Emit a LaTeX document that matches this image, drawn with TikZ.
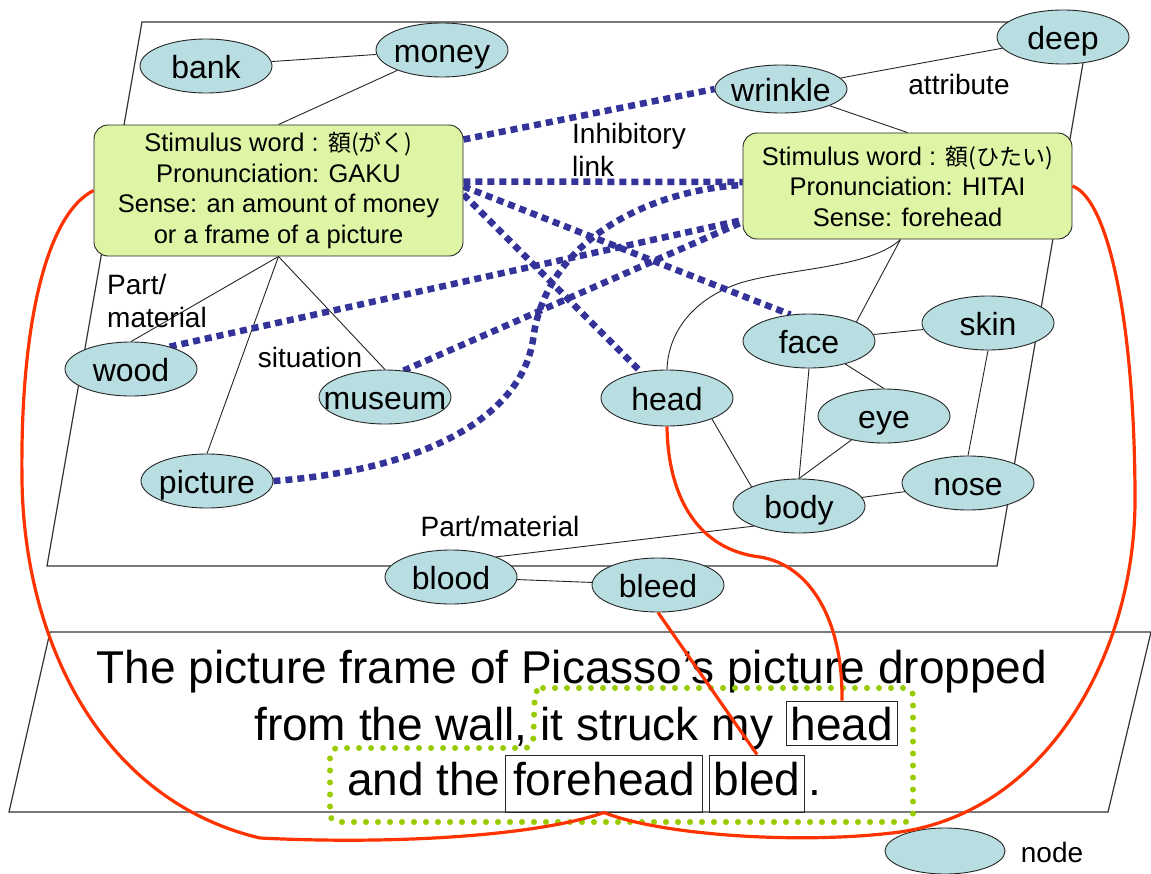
\documentclass[tikz,border=0pt]{standalone}
\usepackage{fontspec}
\setmainfont{Liberation Sans}
\newfontfamily\cjk{Noto Sans CJK JP}
\usetikzlibrary{shapes.geometric}
\pgfdeclarelayer{bg}
\pgfsetlayers{bg,main}
\definecolor{ellfill}{RGB}{184,222,226}
\definecolor{boxfill}{RGB}{222,245,165}
\definecolor{inhblue}{RGB}{51,51,153}
\definecolor{semred}{RGB}{255,51,0}
\definecolor{grn}{RGB}{153,204,0}
\newcommand\zw[1]{\makebox[0pt]{#1}}
\begin{document}
\begin{tikzpicture}[x=1pt,y=-1pt,
  ell/.style={ellipse, draw=black!85, line width=0.9pt, fill=ellfill, minimum width=132pt, minimum height=54pt, inner sep=0pt, text height=24pt, text depth=0pt, font=\fontsize{32}{36}\selectfont},
  stim/.style={rectangle, rounded corners=14pt, draw=black!85, line width=0.9pt, fill=boxfill, align=center, inner sep=0pt, font=\fontsize{25.5}{30.5}\selectfont},
  lbl/.style={inner sep=0pt, font=\fontsize{28}{33}\selectfont},
  sent/.style={inner sep=0pt, font=\fontsize{46}{55}\selectfont},
  wbox/.style={rectangle, draw=black!85, line width=1pt, inner xsep=4pt, inner ysep=1pt, text height=38pt, text depth=4pt, font=\fontsize{46}{55}\selectfont},
  plane/.style={draw=black!80, line width=1.2pt},
  rel/.style={draw=black!85, line width=0.9pt},
  inh/.style={draw=inhblue, line width=6.5pt, dash pattern=on 7pt off 5pt},
  sem/.style={draw=semred, line width=3.2pt},
  dotgrn/.style={draw=grn, line width=6pt, dash pattern=on 0pt off 12pt, line cap=round, rounded corners=8pt}
]
\useasboundingbox (0,0) rectangle (1151,873);

% stimulus boxes
\node[stim, minimum width=369pt, minimum height=131pt] (gaku) at (278.5,190.5)
  {Stimulus word : {\cjk\fontsize{23}{30}\selectfont 額(がく)}\\Pronunciation: GAKU\\Sense: an amount of money\\or a frame of a picture};
\node[stim, minimum width=329pt, minimum height=106pt] (hitai) at (907.5,186)
  {Stimulus word : {\cjk\fontsize{23}{30}\selectfont 額(ひたい)}\\Pronunciation: HITAI\\Sense: forehead};

% concept nodes
\node[ell] (bank) at (206,66) {\zw{bank}};
\node[ell] (money) at (442,50) {\zw{money}};
\node[ell, minimum height=48pt] (wrinkle) at (781,89) {\zw{wrinkle}};
\node[ell] (deep) at (1063,37) {\zw{deep}};
\node[ell] (wood) at (131,369) {\zw{wood}};
\node[ell] (museum) at (385,397) {\zw{museum}};
\node[ell] (picture) at (207,481) {\zw{picture}};
\node[ell, minimum height=56pt] (head) at (667,398) {\zw{head}};
\node[ell] (face) at (809,341) {\zw{face}};
\node[ell] (skin) at (988,323) {\zw{skin}};
\node[ell] (eye) at (884,416) {\zw{eye}};
\node[ell] (body) at (799,506) {\zw{body}};
\node[ell] (nose) at (968,483) {\zw{nose}};
\node[ell] (blood) at (451,577) {\zw{blood}};
\node[ell] (bleed) at (658,585) {\zw{bleed}};
\node[ell, minimum width=120pt, minimum height=46pt] (legend) at (945,851) {};

% labels
\node[lbl] (attr) at (959,84) {attribute};
\node[lbl, align=left, anchor=west] (inhlbl) at (572,150) {Inhibitory\\link};
\node[lbl, align=left, anchor=west] (pm1) at (107,301) {Part/\\material};
\node[lbl] (sit) at (310,357) {situation};
\node[lbl] (pm2) at (500,526) {Part/material};
\node[lbl] (nodelbl) at (1052,852) {node};

% sentence
\node[sent, anchor=base] (l1) at (572,683) {The picture frame of Picasso's picture dropped};
\node[wbox, anchor=base] (headbox) at (842,740) {head};
\node[sent, anchor=base east] (l2) at ([xshift=-13pt]headbox.base west) {from the wall, it struck my};
\node[wbox, anchor=base, inner xsep=8pt, text height=39pt, text depth=16pt] (forehead) at (604,795) {forehead};
\node[wbox, anchor=base, inner xsep=4pt, text height=39pt, text depth=16pt] (bled) at (757,795) {bled};
\node[sent, anchor=base east] (l3) at ([xshift=-4pt]forehead.base west) {and the};
\node[sent, anchor=base west] (dot) at ([xshift=3pt]bled.base east) {.};

\begin{pgfonlayer}{bg}
  \fill[white] (0,0) rectangle (1151,873);
  % planes
  \draw[plane] (142,22) -- (1090,22) -- (997,566) -- (47,566) -- cycle;
  \draw[plane] (50,632) -- (1151,632) -- (1108,812) -- (9,812) -- cycle;
  % semantic relations
  \draw[rel] (bank) -- (money);
  \draw[rel] (money) -- (gaku.north);
  \draw[rel] (wrinkle) -- (deep);
  \draw[rel] (wrinkle) -- (hitai.north);
  \draw[rel] (gaku.south) -- (wood.north);
  \draw[rel] (gaku.south) -- (picture.north);
  \draw[rel] (gaku.south) -- (museum.north);
  \draw[rel] ([xshift=-7pt]hitai.south) -- (face.22);
  \draw[rel] ([xshift=-7pt]hitai.south) .. controls (870,268) and (790,268) .. (740,283)
             .. controls (690,300) and (668,335) .. (head.north);
  \draw[rel] (face) -- (skin);
  \draw[rel] (face) -- (eye.north);
  \draw[rel] (face.south) -- (body.north);
  \draw[rel] (eye) -- (body.north);
  \draw[rel] (head.-25) -- (body.158);
  \draw[rel] (body) -- (nose);
  \draw[rel] (skin.south) -- (nose.north);
  \draw[rel] (body.204) -- (blood.24);
  \draw[rel] (blood) -- (bleed);
  % inhibitory links
  \draw[inh] ([yshift=51pt]gaku.east) -- (wrinkle.west);
  \draw[inh] ([yshift=9pt]gaku.east) -- ([yshift=4pt]hitai.west);
  \draw[inh] ([yshift=4pt]gaku.east) -- (face.125);
  \draw[inh] ([yshift=-4pt]gaku.east) -- (head.135);
  \draw[inh] (wood.30) -- ([yshift=-34pt]hitai.west);
  \draw[inh] (museum.55) -- ([yshift=-36pt]hitai.west);
  \draw[inh] (picture.east) .. controls (420,470) and (520,420) .. (533,340)
             .. controls (545,240) and (650,190) .. ([yshift=1pt]hitai.west);
\end{pgfonlayer}

% focus region
\draw[dotgrn] (535,688) -- (913,688) -- (913,822) -- (330,822) -- (330,748) -- (533,748) -- cycle;

% links from network to sentence
\draw[sem] (gaku.west) .. controls (45,215) and (20,330) .. (22,480)
           .. controls (24,640) and (100,800) .. (260,838)
           .. controls (400,845) and (540,835) .. (forehead.south);
\draw[sem] (forehead.south) .. controls (660,835) and (800,845) .. (900,832)
           .. controls (1050,810) and (1135,650) .. (1135,500)
           .. controls (1135,330) and (1110,200) .. (hitai.east);
\draw[sem] (head.south) .. controls (668,500) and (700,550) .. (760,557)
           .. controls (810,565) and (843,620) .. (headbox.north);
\draw[sem] (bleed.south) -- (bled.north);
\end{tikzpicture}
\end{document}
